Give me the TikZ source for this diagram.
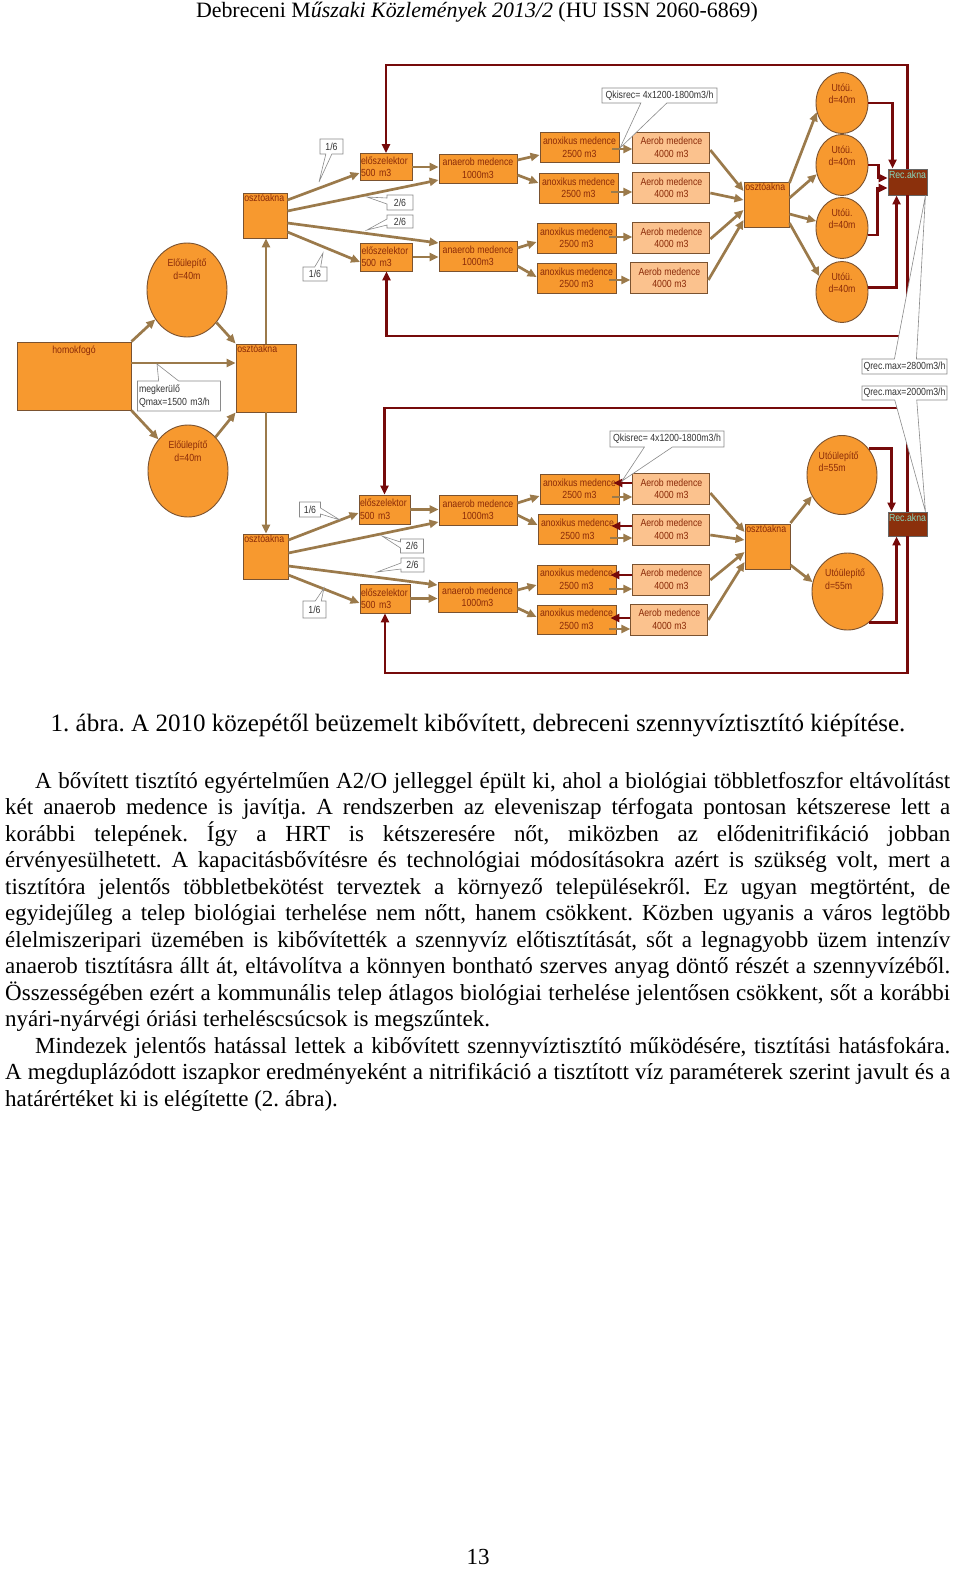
\documentclass[tikz,border=0pt]{standalone}
\usepackage{fontspec}
\setmainfont{Liberation Serif}
\newfontfamily\diagfont{Liberation Sans}[FakeStretch=0.85]
\usetikzlibrary{positioning,arrows.meta,shapes.geometric,shapes.callouts}
\usepackage{xcolor}
\definecolor{tankor}{HTML}{F7992F}
\definecolor{aerobor}{HTML}{FBC28E}
\definecolor{edgebr}{HTML}{7A5230}
\definecolor{flowbr}{HTML}{9B7A4B}
\definecolor{recred}{HTML}{760A0A}
\definecolor{txtred}{HTML}{8A2A08}
\definecolor{recfill}{HTML}{8B300C}
\definecolor{rectxt}{HTML}{86D9BE}
\definecolor{notegray}{HTML}{8A8A8A}
\definecolor{notetext}{HTML}{333333}
\newcommand\dfont{\diagfont\fontsize{10.3}{12.5}\selectfont}
\frenchspacing

\begin{document}
\begin{tikzpicture}[x=1pt, y=-1pt,
    tank/.style={draw=edgebr, fill=tankor, line width=0.9pt, inner sep=1pt, font=\dfont, text=txtred, align=center},
    aerob/.style={tank, fill=aerobor, minimum width=77pt, minimum height=31pt},
    anox/.style={tank, minimum width=79pt, minimum height=30pt},
    basin/.style={tank, ellipse},
    tanktext/.style={font=\dfont, text=txtred, inner sep=1.5pt, align=center},
    shaft/.style={tank, minimum width=45pt, minimum height=45pt, label={[tanktext, anchor=north west]north west:osztóakna}},
    recbox/.style={draw=black!60, fill=recfill, line width=0.9pt, minimum width=39pt, label={[tanktext, text=rectxt, anchor=north, yshift=-1pt]north:Rec.akna}},
    note/.style={rectangle callout, draw=notegray, fill=white, line width=0.6pt, inner sep=1.5pt, font=\dfont, text=notetext, callout pointer width=6pt, minimum height=15pt},
    flow/.style={draw=flowbr, line width=2.7pt, -{Triangle[length=9pt,width=8pt]}},
    recirc/.style={draw=recred, line width=2.8pt, -{Triangle[length=9pt,width=8pt]}},
    bodytext/.style={font=\fontsize{23}{26.5}\selectfont, inner sep=0pt}]
    \path[use as bounding box, fill=white] (0,0) rectangle (960,1577);

    \node[bodytext, font=\fontsize{21.9}{24}\selectfont, anchor=base] (hdr) at (477,17) {Debreceni M\textit{űszaki Közlemények 2013/2} (HU ISSN 2060-6869)};

    \node[tank, minimum width=114pt, minimum height=68pt, label={[tanktext, anchor=north, yshift=-3pt]north:homokfogó}] (homok) at (74,376) {};
    \node[basin, minimum width=80pt, minimum height=94pt, label={[tanktext, anchor=north, yshift=-15pt]north:Előülepítő\\d=40m}] (elo1) at (187,290) {};
    \node[basin, minimum width=80pt, minimum height=92pt, label={[tanktext, anchor=north, yshift=-15pt]north:Előülepítő\\d=40m}] (elo2) at (188,471) {};
    \node[shaft, minimum width=60pt, minimum height=68pt] (osz0) at (266,378) {};
    \node[shaft, minimum width=44pt] (osz1) at (265,215.5) {};
    \node[shaft] (osz2) at (265.5,556.5) {};

    \node[tank, align=left, text width=50pt, minimum height=27pt] (esz1) at (386,167) {előszelektor\\500 m3};
    \node[tank, align=left, text width=50pt, minimum height=28pt] (esz2) at (386.5,257) {előszelektor\\500 m3};
    \node[tank, minimum width=78pt, minimum height=29pt] (ana1) at (478,168.5) {anaerob medence\\1000m3};
    \node[tank, minimum width=78pt, minimum height=30pt] (ana2) at (478,256) {anaerob medence\\1000m3};
    \node[anox] (anox1) at (579.5,147.5) {anoxikus medence\\2500 m3};
    \node[anox] (anox2) at (578.5,188) {anoxikus medence\\2500 m3};
    \node[anox] (anox3) at (576.5,238) {anoxikus medence\\2500 m3};
    \node[anox] (anox4) at (576.5,278) {anoxikus medence\\2500 m3};
    \node[aerob, right=13pt of anox1] (aer1) {Aerob medence\\4000 m3};
    \node[aerob, right=14pt of anox2] (aer2) {Aerob medence\\4000 m3};
    \node[aerob, right=16pt of anox3] (aer3) {Aerob medence\\4000 m3};
    \node[aerob, right=14pt of anox4] (aer4) {Aerob medence\\4000 m3};
    \node[shaft] (osz3) at (766.5,204.5) {};
    \node[basin, minimum width=52pt, minimum height=61pt, label={[tanktext, anchor=north, yshift=-10pt]north:Utóü.\\d=40m}] (ut1) at (842,103) {};
    \node[basin, minimum width=52pt, minimum height=61pt, label={[tanktext, anchor=north, yshift=-10pt]north:Utóü.\\d=40m}] (ut2) at (842,165) {};
    \node[basin, minimum width=52pt, minimum height=61pt, label={[tanktext, anchor=north, yshift=-10pt]north:Utóü.\\d=40m}] (ut3) at (842,228) {};
    \node[basin, minimum width=52pt, minimum height=61pt, label={[tanktext, anchor=north, yshift=-10pt]north:Utóü.\\d=40m}] (ut4) at (842,292) {};
    \node[recbox, minimum height=26pt] (rec1) at (907.5,182) {};

    \node[tank, align=left, text width=49pt, minimum height=29pt] (esz3) at (384.5,509.5) {előszelektor\\500 m3};
    \node[tank, align=left, text width=48pt, minimum height=29pt] (esz4) at (385,598.5) {előszelektor\\500 m3};
    \node[tank, minimum width=78pt, minimum height=30pt] (ana3) at (478,510) {anaerob medence\\1000m3};
    \node[tank, minimum width=79pt, minimum height=30pt] (ana4) at (477.5,597) {anaerob medence\\1000m3};
    \node[anox] (anox5) at (579.5,489) {anoxikus medence\\2500 m3};
    \node[anox] (anox6) at (577.5,529.5) {anoxikus medence\\2500 m3};
    \node[anox, minimum height=29pt] (anox7) at (576.5,579.5) {anoxikus medence\\2500 m3};
    \node[anox, minimum height=29pt] (anox8) at (576.5,619.5) {anoxikus medence\\2500 m3};
    \node[aerob, right=13pt of anox5] (aer5) {Aerob medence\\4000 m3};
    \node[aerob, right=15pt of anox6] (aer6) {Aerob medence\\4000 m3};
    \node[aerob, right=16pt of anox7] (aer7) {Aerob medence\\4000 m3};
    \node[aerob, right=14pt of anox8] (aer8) {Aerob medence\\4000 m3};
    \node[shaft] (osz4) at (767.5,546.5) {};
    \node[basin, minimum width=70pt, minimum height=79pt, label={[tanktext, align=left, anchor=north west, xshift=-25pt, yshift=-15pt]north:Utóülepítő\\d=55m}] (utl1) at (842,475) {};
    \node[basin, minimum width=71pt, minimum height=77pt, label={[tanktext, align=left, anchor=north west, xshift=-24pt, yshift=-15pt]north:Utóülepítő\\d=55m}] (utl2) at (847.5,591.5) {};
    \node[recbox, minimum height=24pt] (rec2) at (907.5,524) {};

    \coordinate (topA) at (0,65);
    \coordinate (botA) at (0,336);
    \coordinate (topB) at (0,408);
    \coordinate (botB) at (0,673);

    \draw[flow] (homok.north east) -- (elo1);
    \draw[flow] (elo1) -- (osz0.north west);
    \draw[flow] (homok.east |- 0,363) -- (osz0.west |- 0,363);
    \draw[flow] (homok.south east) -- (elo2);
    \draw[flow] (elo2) -- (osz0.south west);
    \draw[flow] (osz0.north) -- (osz0.north |- osz1.south);
    \draw[flow] (osz0.south) -- (osz0.south |- osz2.north);

    \draw[flow] (osz1.east |- 0,200) -- (esz1.west |- 0,173);
    \draw[flow] (osz1.east |- 0,211) -- (ana1.west |- 0,180);
    \draw[flow] (osz1.east |- 0,223) -- (ana2.west |- 0,243);
    \draw[flow] (osz1.east |- 0,232) -- (esz2.west |- 0,262);
    \draw[flow] (esz1.east) -- (esz1.east -| ana1.west);
    \draw[flow] (esz2.east) -- (esz2.east -| ana2.west);
    \draw[flow] (ana1.east |- 0,160) -- (anox1.west |- 0,155);
    \draw[flow] (ana1.east |- 0,175) -- (anox2.west |- 0,183);
    \draw[flow] (ana2.east |- 0,248) -- (anox3.west |- 0,242);
    \draw[flow] (ana2.east |- 0,266) -- (anox4.west |- 0,277);
    \draw[flow] (anox1.east |- 0,149) ++(-7,0) -- (aer1.west |- 0,149);
    \draw[flow] (anox2.east |- 0,192) ++(-7,0) -- (aer2.west |- 0,192);
    \draw[flow] (anox3.east |- 0,237) ++(-7,0) -- (aer3.west |- 0,237);
    \draw[flow] (anox4.east |- 0,280) ++(-7,0) -- (aer4.west |- 0,280);
    \draw[flow] (aer1.east |- 0,150) -- (osz3.west |- 0,191);
    \draw[flow] (aer2.east |- 0,193) -- (osz3.west |- 0,200);
    \draw[flow] (aer3.east |- 0,239) -- (osz3.west |- 0,210);
    \draw[flow] (aer4.east |- 0,280) -- (osz3.west |- 0,220);
    \draw[flow] (osz3.east |- 0,183) -- (ut1.200);
    \draw[flow] (osz3.east |- 0,198) -- (ut2.200);
    \draw[flow] (osz3.east |- 0,214) -- (ut3.165);
    \draw[flow] (osz3.east |- 0,223) -- (ut4.145);
    \draw[recirc] (ut1.east) -| ([xshift=5pt]rec1.north west);
    \draw[recirc] (ut2.east) -- ++(10,0) |- ([yshift=4pt]rec1.west);
    \draw[recirc] (ut3.-15) -- ++(10,0) |- ([yshift=-6pt]rec1.west);
    \draw[recirc] (ut4.10) -| ([xshift=9pt]rec1.south west);
    \draw[recirc] (rec1.north) -- (rec1.north |- topA) -| (esz1.north);
    \draw[recirc] (rec1.south) -- (rec1.south |- botA) -| (esz2.south);

    \draw[flow] (osz2.east |- 0,540) -- (esz3.west |- 0,513);
    \draw[flow] (osz2.east |- 0,553) -- (ana3.west |- 0,522);
    \draw[flow] (osz2.east |- 0,566) -- (ana4.west |- 0,585);
    \draw[flow] (osz2.east |- 0,575) -- (esz4.west |- 0,603);
    \draw[flow] (esz3.east) -- (esz3.east -| ana3.west);
    \draw[flow] (esz4.east) -- (esz4.east -| ana4.west);
    \draw[flow] (ana3.east |- 0,503) -- (anox5.west |- 0,496);
    \draw[flow] (ana3.east |- 0,515) -- (anox6.west |- 0,525);
    \draw[flow] (ana4.east |- 0,590) -- (anox7.west |- 0,585);
    \draw[flow] (ana4.east |- 0,608) -- (anox8.west |- 0,617);
    \draw[flow] (anox5.east |- 0,497) ++(-7,0) -- (aer5.west |- 0,497);
    \draw[flow] (anox6.east |- 0,538) ++(-7,0) -- (aer6.west |- 0,538);
    \draw[flow] (anox7.east |- 0,589) ++(-7,0) -- (aer7.west |- 0,589);
    \draw[flow] (anox8.east |- 0,629) ++(-7,0) -- (aer8.west |- 0,629);
    \draw[recirc, shorten >=-6pt] (aer5.west |- 0,483) -- (anox5.east |- 0,483);
    \draw[recirc, shorten >=-6pt] (aer6.west |- 0,526) -- (anox6.east |- 0,526);
    \draw[recirc, shorten >=-6pt] (aer7.west |- 0,575) -- (anox7.east |- 0,575);
    \draw[recirc, shorten >=-6pt] (aer8.west |- 0,618) -- (anox8.east |- 0,618);
    \draw[flow] (aer5.east |- 0,493) -- (osz4.west |- 0,532);
    \draw[flow] (aer6.east |- 0,535) -- (osz4.west |- 0,540);
    \draw[flow] (aer7.east |- 0,580) -- (osz4.west |- 0,552);
    \draw[flow] (aer8.east |- 0,620) -- (osz4.west |- 0,562);
    \draw[flow] (osz4.east |- 0,523) -- (utl1.215);
    \draw[flow] (osz4.east |- 0,565) -- (utl2.165);
    \draw[recirc] (utl1.45) -| ([xshift=4pt]rec2.north west);
    \draw[recirc] (utl2.-55) -| ([xshift=9pt]rec2.south west);
    \draw[recirc] (rec2.north) -- (rec2.north |- topB) -| (esz3.north);
    \draw[recirc] (rec2.south) -- (rec2.south |- botB) -| (esz4.south);

    \node[note, minimum width=23pt, callout absolute pointer={(319,182)}] (f1) at (331.5,146.5) {1/6};
    \node[note, minimum width=26pt, callout absolute pointer={(367,197)}] (f2) at (400,202.5) {2/6};
    \node[note, minimum width=26pt, minimum height=13pt, callout absolute pointer={(367,230)}] (f3) at (400,221.5) {2/6};
    \node[note, minimum width=24pt, minimum height=14pt, callout absolute pointer={(323,253)}] (f4) at (315,274) {1/6};
    \node[note, minimum width=115pt, callout pointer width=26pt, callout absolute pointer={(620,148)}] (qk1) at (659.5,95.5) {Qkisrec= 4x1200-1800m3/h};
    \node[note, align=left, text width=80pt, minimum height=30pt, callout pointer width=20pt, callout absolute pointer={(157,364)}] (meg) at (179,396) {megkerülő\\Qmax=1500 m3/h};
    \node[note, minimum width=21pt, callout absolute pointer={(340,520)}] (f5) at (310,509.5) {1/6};
    \node[note, minimum width=23pt, minimum height=14pt, callout absolute pointer={(382,536)}] (f6) at (412,546) {2/6};
    \node[note, minimum width=23pt, minimum height=14pt, callout absolute pointer={(377,572)}] (f7) at (412.5,565) {2/6};
    \node[note, minimum width=23pt, minimum height=17pt, callout absolute pointer={(324,588)}] (f8) at (314.5,609.5) {1/6};
    \node[note, minimum width=114pt, minimum height=16pt, callout pointer width=28pt, callout absolute pointer={(622,481)}] (qk2) at (667,439) {Qkisrec= 4x1200-1800m3/h};
    \node[note, minimum width=85pt, callout pointer width=22pt, callout absolute pointer={([xshift=-2pt]rec1.south east)}] (qr1) at (904.5,366.5) {Qrec.max=2800m3/h};
    \node[note, minimum width=85pt, minimum height=14pt, callout pointer width=22pt, callout absolute pointer={([xshift=-2pt]rec2.north east)}] (qr2) at (904.5,393) {Qrec.max=2000m3/h};

    \node[bodytext, font=\fontsize{25}{26.5}\selectfont, anchor=base] (cap) at (478,731) {1. ábra. A 2010 közepétől beüzemelt kibővített, debreceni szennyvíztisztító kiépítése.};
    \node[bodytext, anchor=base west] (l1) at (35,788) {\makebox[915pt][s]{A bővített tisztító egyértelműen A2/O jelleggel épült ki, ahol a biológiai többletfoszfor eltávolítást}};
    \node[bodytext, anchor=base west] (l2) at (5,814.5) {\makebox[945pt][s]{két anaerob medence is javítja. A rendszerben az eleveniszap térfogata pontosan kétszerese lett a}};
    \node[bodytext, anchor=base west] (l3) at (5,841) {\makebox[945pt][s]{korábbi telepének. Így a HRT is kétszeresére nőt, miközben az elődenitrifikáció jobban}};
    \node[bodytext, anchor=base west] (l4) at (5,867.5) {\makebox[945pt][s]{érvényesülhetett. A kapacitásbővítésre és technológiai módosításokra azért is szükség volt, mert a}};
    \node[bodytext, anchor=base west] (l5) at (5,894) {\makebox[945pt][s]{tisztítóra jelentős többletbekötést terveztek a környező településekről. Ez ugyan megtörtént, de}};
    \node[bodytext, anchor=base west] (l6) at (5,920.5) {\makebox[945pt][s]{egyidejűleg a telep biológiai terhelése nem nőtt, hanem csökkent. Közben ugyanis a város legtöbb}};
    \node[bodytext, anchor=base west] (l7) at (5,947) {\makebox[945pt][s]{élelmiszeripari üzemében is kibővítették a szennyvíz előtisztítását, sőt a legnagyobb üzem intenzív}};
    \node[bodytext, anchor=base west] (l8) at (5,973.5) {\makebox[945pt][s]{anaerob tisztításra állt át, eltávolítva a könnyen bontható szerves anyag döntő részét a szennyvízéből.}};
    \node[bodytext, anchor=base west] (l9) at (5,1000) {\makebox[945pt][s]{Összességében ezért a kommunális telep átlagos biológiai terhelése jelentősen csökkent, sőt a korábbi}};
    \node[bodytext, anchor=base west] (l10) at (5,1026.5) {nyári-nyárvégi óriási terheléscsúcsok is megszűntek.};
    \node[bodytext, anchor=base west] (l11) at (35,1053) {\makebox[915pt][s]{Mindezek jelentős hatással lettek a kibővített szennyvíztisztító működésére, tisztítási hatásfokára.}};
    \node[bodytext, anchor=base west] (l12) at (5,1079.5) {\makebox[945pt][s]{A megduplázódott iszapkor eredményeként a nitrifikáció a tisztított víz paraméterek szerint javult és a}};
    \node[bodytext, anchor=base west] (l13) at (5,1106) {határértéket ki is elégítette (2. ábra).};

    \node[bodytext, anchor=base] (pnum) at (478,1564) {13};
\end{tikzpicture}
\end{document}
